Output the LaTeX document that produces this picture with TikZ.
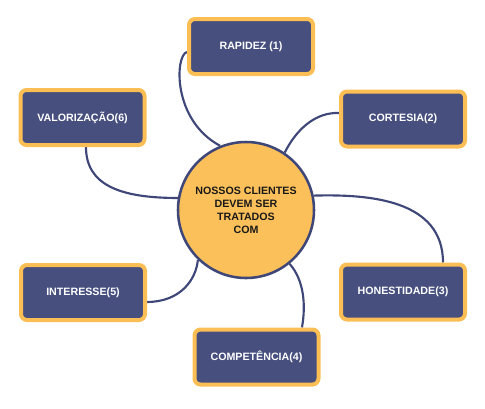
\documentclass[tikz,border=0pt]{standalone}
\usepackage{fontspec}
\setmainfont{Liberation Sans}
\usetikzlibrary{backgrounds}
\definecolor{boxblue}{HTML}{474F7E}
\definecolor{boxorange}{HTML}{FBBE55}
\definecolor{circfill}{HTML}{FCC05A}
\definecolor{linkblue}{HTML}{3F4779}
\begin{document}
\begin{tikzpicture}[x=0.75pt,y=-0.75pt,
  topic/.style={draw=boxorange, line width=3pt, fill=boxblue, rounded corners=4.5pt,
    minimum width=93pt, minimum height=41.25pt, inner sep=0pt,
    text=white, font=\fontsize{8}{9.75}\selectfont\bfseries},
  hub/.style={circle, draw=linkblue, line width=1.9pt, fill=circfill, minimum size=102pt,
    inner sep=0pt, align=center, text=black!90, font=\fontsize{8}{9.75}\selectfont\bfseries},
  link/.style={draw=linkblue, line width=1.6pt}]
\useasboundingbox (0,0) rectangle (485,408);
\node[hub] (c) at (246,210) {NOSSOS CLIENTES\\DEVEM SER\\TRATADOS\\COM};
\node[topic] (rap) at (251,46.5) {RAPIDEZ (1)};
\node[topic] (cort) at (403,119) {CORTESIA(2)};
\node[topic] (hon) at (403,292) {HONESTIDADE(3)};
\node[topic] (comp) at (256.5,357) {COMPETÊNCIA(4)};
\node[topic] (int) at (83,292.5) {INTERESSE(5)};
\node[topic] (val) at (82.5,117.5) {VALORIZAÇÃO(6)};
\begin{scope}[on background layer]
\draw[link] ([yshift=-4.1pt]rap.west) .. controls (175,55) and (172,120) .. (c.112);
\draw[link] ([xshift=2.6pt]val.south) .. controls (86,185) and (120,198) .. (c.170);
\draw[link] ([yshift=4.5pt]cort.west) .. controls (315,112) and (296,130) .. (c.56);
\draw[link] (c.12) .. controls (370,194) and (443,200) .. ([xshift=30pt]hon.north);
\draw[link] ([yshift=-7.1pt]int.east) .. controls (180,302) and (196,280) .. (c.226);
\draw[link] ([xshift=34.1pt]comp.north) .. controls (306,305) and (304,280) .. (c.309);
\end{scope}
\end{tikzpicture}
\end{document}
